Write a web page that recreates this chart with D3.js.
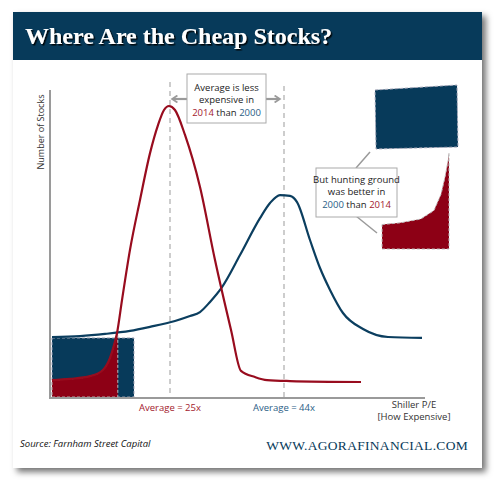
<!DOCTYPE html>
<html><head><meta charset="utf-8">
<script src="https://cdn.jsdelivr.net/npm/d3@7"></script>
<style>
body{margin:0;background:#fff;}
svg{display:block;}
</style></head>
<body>
<script>
// ---- data (Shiller P/E vs number of stocks) ----
const redPE    = [5.33,8.33,11.67,13.83,15,15.67,16.17,17,18.33,20,21.67,23,24,24.83,25.83,27.5,30,32.5,35.17,36.83,39.17,41.17,45,56.83];
const redCount = [5.8,6.2,7.1,9.1,13.0,17.2,21.1,31.8,48.1,64.3,79.5,88.6,93.5,94.8,93.5,85.4,68.5,44.8,22.1,8.8,6.8,5.8,5.5,5.2];
const bluePE    = [5.33,10,14.17,18.33,21.67,25.83,28.33,30,31.67,33.67,36.67,40,41.67,43.33,45,46.17,48.33,50,51.67,53.83,57.17,61.33,67];
const blueCount = [19.8,20.1,20.8,21.8,23.1,25.0,26.6,27.9,31.2,36.0,46.4,58.4,63.3,65.9,65.6,63.6,51.3,42.2,35.1,27.6,22.4,19.8,19.5];
const averages = [25, 44];
const averageLabels = ["Average = 25x", "Average = 44x"];
const redShadePE = [5.33, 16.3];
const blueShadePE = [5.33, 19];
const blueShadeTop = 19.5;
const titleText = "Where Are the Cheap Stocks?";
const yLabel = "Number of Stocks";
const xLabel = ["Shiller P/E", "[How Expensive]"];
const note1 = [["Average is less"],["expensive in"],["2014"," than ","2000"]];
const note2 = [["But hunting ground"],["was better in"],["2000"," than ","2014"]];
const sourceText = "Source:  Farnham Street Capital";
const siteText = "WWW.AGORAFINANCIAL.COM";

const W=500,H=488;
const NAVY="#073a5a", RED="#8d0015", REDLINE="#980c1e", BLUELINE="#0b3e5f";
const REDTXT="#a3192d", BLUETXT="#2b5e86", GRAY="#9a9a9a";

const svg=d3.select("body").append("svg").attr("width",W).attr("height",H);
const defs=svg.append("defs");
const f=defs.append("filter").attr("id","sh").attr("x","-5%").attr("y","-5%").attr("width","115%").attr("height","115%");
f.append("feDropShadow").attr("dx",4).attr("dy",4).attr("stdDeviation",3).attr("flood-color","#000").attr("flood-opacity",0.55);
const ft=defs.append("filter").attr("id","tsh");
ft.append("feDropShadow").attr("dx",1.5).attr("dy",1.5).attr("stdDeviation",0.6).attr("flood-color","#000").attr("flood-opacity",0.9);

// panel
svg.append("rect").attr("x",13).attr("y",12).attr("width",469).attr("height",456).attr("fill","#fff").attr("filter","url(#sh)");
svg.append("rect").attr("x",13).attr("y",12).attr("width",469).attr("height",48).attr("fill",NAVY);
svg.append("text").attr("x",25).attr("y",44).text(titleText)
  .attr("font-family","'Liberation Serif','DejaVu Serif',serif").attr("font-weight","bold")
  .attr("font-size",24).attr("fill","#fff").attr("filter","url(#tsh)");

// scales
const x=d3.scaleLinear().domain([5,67.5]).range([50,425]);
const y=d3.scaleLinear().domain([0,100]).range([398,90]);

const redData=redPE.map((p,i)=>({x:p,y:redCount[i]}));
const blueData=bluePE.map((p,i)=>({x:p,y:blueCount[i]}));

// shaded areas
const bx0=x(blueShadePE[0]), bx1=x(blueShadePE[1]);
svg.append("rect").attr("x",bx0).attr("y",y(blueShadeTop)).attr("width",bx1-bx0).attr("height",y(0.3)-y(blueShadeTop))
  .attr("fill",NAVY).attr("stroke","#aab").attr("stroke-dasharray","3,2").attr("stroke-width",1);

const redSub=redData.filter(d=>d.x<=redShadePE[1]+0.01);
const area=d3.area().x(d=>x(d.x)).y0(y(0.3)).y1(d=>y(d.y)).curve(d3.curveMonotoneX);
const lastIn=redSub[redSub.length-1];
const nextP=redData[redSub.length];
const tt=(redShadePE[1]-lastIn.x)/(nextP.x-lastIn.x);
const edge={x:redShadePE[1],y:lastIn.y+tt*(nextP.y-lastIn.y)};
svg.append("path").datum(redSub.concat([edge])).attr("d",area)
  .attr("fill",RED).attr("stroke","#bbb").attr("stroke-dasharray","3,2").attr("stroke-width",1);

// axes lines
svg.append("line").attr("x1",50).attr("x2",50).attr("y1",y(100)).attr("y2",y(0)+1).attr("stroke",GRAY).attr("stroke-width",2);
svg.append("line").attr("x1",49).attr("x2",x(67.5)).attr("y1",y(0)).attr("y2",y(0)).attr("stroke",GRAY).attr("stroke-width",2);

// averages
averages.forEach((a,i)=>{
  svg.append("line").attr("x1",x(a)).attr("x2",x(a)).attr("y1",i?86:82).attr("y2",y(0)-1)
    .attr("stroke","#bdbdbd").attr("stroke-width",1.5).attr("stroke-dasharray","5,4");
  svg.append("text").attr("x",x(a)).attr("y",411).attr("text-anchor","middle")
    .attr("font-family","'Open Sans',sans-serif").attr("font-size",9.5)
    .attr("fill",i?BLUETXT:REDTXT).text(averageLabels[i]);
});

// curves
const line=d3.line().x(d=>x(d.x)).y(d=>y(d.y)).curve(d3.curveMonotoneX);
svg.append("path").datum(blueData).attr("d",line).attr("fill","none").attr("stroke",BLUELINE).attr("stroke-width",2.2);
svg.append("path").datum(redData).attr("d",line).attr("fill","none").attr("stroke",REDLINE).attr("stroke-width",2.2);

// axis labels
svg.append("text").attr("transform","translate(44,132) rotate(-90)").attr("text-anchor","middle")
  .attr("font-family","'Open Sans',sans-serif").attr("font-size",9).attr("fill","#333").text(yLabel);
xLabel.forEach((t,i)=>svg.append("text").attr("x",414).attr("y",408+i*12).attr("text-anchor","middle")
  .attr("font-family","'Open Sans',sans-serif").attr("font-size",9.5).attr("fill","#333").text(t));

// callouts
function note(lines,cx,y0,bx,by,bw,bh){
  svg.append("rect").attr("x",bx).attr("y",by).attr("width",bw).attr("height",bh)
    .attr("fill","#fff").attr("stroke","#aaa").attr("stroke-width",1);
  lines.forEach((ln,i)=>{
    const t=svg.append("text").attr("x",cx).attr("y",y0+i*12.5).attr("text-anchor","middle")
      .attr("font-family","'Open Sans',sans-serif").attr("font-size",9.5).attr("fill","#222");
    ln.forEach(s=>{
      t.append("tspan").text(s).attr("fill",s==="2014"?REDTXT:(s==="2000"?BLUETXT:"#222"));
    });
  });
}
const arr=defs.append("marker").attr("id","ar").attr("viewBox","0 0 10 10").attr("refX",6).attr("refY",5)
  .attr("markerWidth",4).attr("markerHeight",4).attr("orient","auto-start-reverse");
arr.append("path").attr("d","M1,1 L7,5 L1,9").attr("fill","none").attr("stroke",GRAY).attr("stroke-width",2);
svg.append("line").attr("x1",187).attr("x2",x(25)+3).attr("y1",99).attr("y2",99).attr("stroke",GRAY).attr("stroke-width",2.2).attr("marker-end","url(#ar)");
svg.append("line").attr("x1",266).attr("x2",x(44)-5).attr("y1",99).attr("y2",99).attr("stroke",GRAY).attr("stroke-width",2.2).attr("marker-end","url(#ar)");
note(note1,226.5,90.5,187,74,79,49);

svg.append("line").attr("x1",356).attr("y1",168).attr("x2",370).attr("y2",152).attr("stroke",GRAY).attr("stroke-width",1.5);
svg.append("line").attr("x1",356).attr("y1",216).attr("x2",377).attr("y2",233).attr("stroke",GRAY).attr("stroke-width",1.5);
note(note2,356.5,182.5,316,168,81,49);

// magnified copies of the shaded regions
svg.append("path").attr("d","M375,90 L457,85 L458,147 L376,149 Z").attr("fill",NAVY)
  .attr("stroke","#aab").attr("stroke-dasharray","3,2").attr("stroke-width",1);
const mx=d3.scaleLinear().domain([redShadePE[0],redShadePE[1]]).range([382,449]);
const my=d3.scaleLinear().domain([0,21.1]).range([249,160]);
const mArea=d3.area().x(d=>mx(d.x)).y0(249).y1(d=>my(d.y)).curve(d3.curveLinear);
svg.append("path").datum(redSub.concat([edge])).attr("d",mArea).attr("fill",RED)
  .attr("stroke","#bbb").attr("stroke-dasharray","3,2").attr("stroke-width",1);

// footer
svg.append("text").attr("x",20).attr("y",447).attr("font-family","'Open Sans',sans-serif").attr("font-style","italic")
  .attr("font-size",9.5).attr("fill","#111").text(sourceText);
svg.append("text").attr("x",468).attr("y",450).attr("text-anchor","end")
  .attr("font-family","'Liberation Serif','DejaVu Serif',serif").attr("font-size",13.5).attr("letter-spacing",0.3)
  .attr("fill",NAVY).text(siteText);
</script>
</body></html>
